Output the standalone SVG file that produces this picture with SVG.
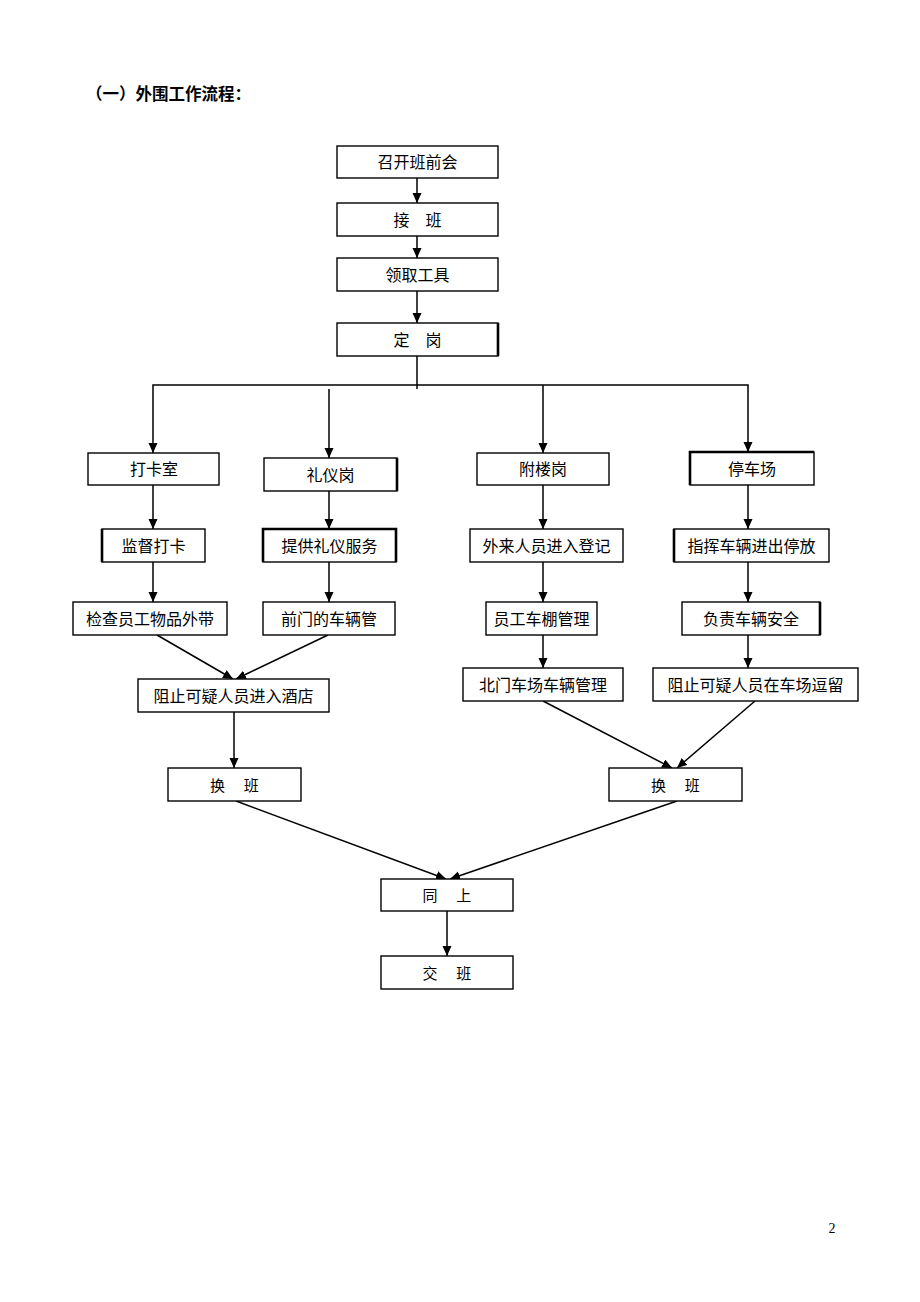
<svg xmlns="http://www.w3.org/2000/svg" width="920" height="1302" viewBox="0 0 920 1302">
<style>
.box{fill:#fff;stroke:#000;stroke-width:1.4}
.thk{stroke:#000;stroke-width:2.6}
.lbl{font-family:"Liberation Serif","Noto Sans CJK SC",serif;font-size:16px;fill:#000;text-anchor:middle}
.ttl{font-family:"Liberation Sans","Noto Sans CJK SC",sans-serif;font-size:16.5px;font-weight:bold;fill:#000}
.ln{fill:none;stroke:#000;stroke-width:1.5}
.arr{fill:none;stroke:#000;stroke-width:1.5;marker-end:url(#ah)}
</style>
<defs>
<marker id="ah" markerUnits="userSpaceOnUse" markerWidth="10" markerHeight="10" refX="10" refY="4.5" orient="auto">
<path d="M0,0 L10,4.5 L0,9 Z" fill="#000"/>
</marker>
</defs>
<rect width="920" height="1302" fill="#fff"/>
<text class="ttl" x="86" y="100">（一）外围工作流程：</text>

<g id="connectors">
<path class="arr" d="M417,178 V203"/>
<path class="arr" d="M417,236 V258"/>
<path class="arr" d="M417,291 V323"/>
<path class="ln" d="M417,356 V389"/>
<path class="arr" d="M417,385 H153 V453"/>
<path class="arr" d="M417,385 H748 V452"/>
<path class="arr" d="M329,389 V458"/>
<path class="arr" d="M543,385 V453"/>
<path class="arr" d="M153,485 V529"/>
<path class="arr" d="M329,491 V529"/>
<path class="arr" d="M543,485 V529"/>
<path class="arr" d="M748,485 V529"/>
<path class="arr" d="M153,562 V602"/>
<path class="arr" d="M329,562 V602"/>
<path class="arr" d="M543,562 V602"/>
<path class="arr" d="M748,562 V602"/>
<path class="arr" d="M157,635 L233,679"/>
<path class="arr" d="M328,635 L236,679"/>
<path class="arr" d="M543,635 V668"/>
<path class="arr" d="M748,635 V668"/>
<path class="arr" d="M234,712 V768"/>
<path class="arr" d="M543,701 L672,768"/>
<path class="arr" d="M755,701 L677,768"/>
<path class="arr" d="M236,801 L446,879"/>
<path class="arr" d="M677,801 L450,879"/>
<path class="arr" d="M447,911 V956"/>
</g>

<g id="n1"><rect class="box" x="337" y="146" width="161" height="32"/><text class="lbl" x="417.5" y="168">召开班前会</text></g>
<g id="n2"><rect class="box" x="337" y="203" width="161" height="33"/><text class="lbl" x="417.5" y="225.5">接　班</text></g>
<g id="n3"><rect class="box" x="337" y="258" width="161" height="33"/><text class="lbl" x="417.5" y="280.5">领取工具</text></g>
<g id="n4"><rect class="box" x="337" y="323" width="161" height="33"/><line class="thk" x1="498" y1="323" x2="498" y2="356"/><text class="lbl" x="417.5" y="345.5">定　岗</text></g>
<g id="n5"><rect class="box" x="88" y="453" width="131" height="32"/><text class="lbl" x="154" y="475">打卡室</text></g>
<g id="n6"><rect class="box" x="264" y="458" width="133" height="33"/><line class="thk" x1="397" y1="458" x2="397" y2="491"/><text class="lbl" x="330.5" y="480.5">礼仪岗</text></g>
<g id="n7"><rect class="box" x="477" y="453" width="132" height="32"/><text class="lbl" x="543" y="475">附楼岗</text></g>
<g id="n8"><rect class="box" x="690" y="452" width="124" height="33"/><path class="thk" fill="none" d="M690,485 V452 H814"/><text class="lbl" x="752" y="474.5">停车场</text></g>
<g id="n9"><rect class="box" x="102" y="529" width="103" height="33"/><line class="thk" x1="102" y1="529" x2="102" y2="562"/><text class="lbl" x="153.5" y="551.5">监督打卡</text></g>
<g id="n10"><rect class="box" x="263" y="529" width="133" height="33"/><path class="thk" fill="none" d="M263,562 V529 H396 V562"/><text class="lbl" x="329.5" y="551.5">提供礼仪服务</text></g>
<g id="n11"><rect class="box" x="470" y="529" width="153" height="33"/><text class="lbl" x="546.5" y="551.5">外来人员进入登记</text></g>
<g id="n12"><rect class="box" x="674" y="529" width="155" height="33"/><line class="thk" x1="674" y1="529" x2="674" y2="562"/><text class="lbl" x="751.5" y="551.5">指挥车辆进出停放</text></g>
<g id="n13"><rect class="box" x="73" y="602" width="154" height="33"/><text class="lbl" x="150" y="624.5">检查员工物品外带</text></g>
<g id="n14"><rect class="box" x="263" y="602" width="132" height="33"/><text class="lbl" x="329" y="624.5">前门的车辆管</text></g>
<g id="n15"><rect class="box" x="486" y="602" width="111" height="33"/><text class="lbl" x="541.5" y="624.5">员工车棚管理</text></g>
<g id="n16"><rect class="box" x="682" y="602" width="138" height="33"/><line class="thk" x1="820" y1="602" x2="820" y2="635"/><text class="lbl" x="751" y="624.5">负责车辆安全</text></g>
<g id="n17"><rect class="box" x="138" y="679" width="191" height="33"/><text class="lbl" x="233.5" y="701.5">阻止可疑人员进入酒店</text></g>
<g id="n18"><rect class="box" x="463" y="668" width="160" height="33"/><text class="lbl" x="543" y="690.5">北门车场车辆管理</text></g>
<g id="n19"><rect class="box" x="653" y="668" width="205" height="33"/><text class="lbl" x="755.5" y="690.5">阻止可疑人员在车场逗留</text></g>
<g id="n20"><rect class="box" x="168" y="768" width="133" height="33"/><text class="lbl" x="234.5" y="790.5" style="font-size:15px">换　 班</text></g>
<g id="n21"><rect class="box" x="609" y="768" width="133" height="33"/><text class="lbl" x="675.5" y="790.5" style="font-size:15px">换　 班</text></g>
<g id="n22"><rect class="box" x="381" y="879" width="132" height="32"/><text class="lbl" x="447" y="901" style="font-size:15px">同　 上</text></g>
<g id="n23"><rect class="box" x="381" y="956" width="132" height="33"/><text class="lbl" x="447" y="978.5" style="font-size:15px">交　 班</text></g>

<text x="832" y="1233" style="font-family:'Liberation Serif',serif;font-size:14px;text-anchor:middle">2</text>
</svg>
